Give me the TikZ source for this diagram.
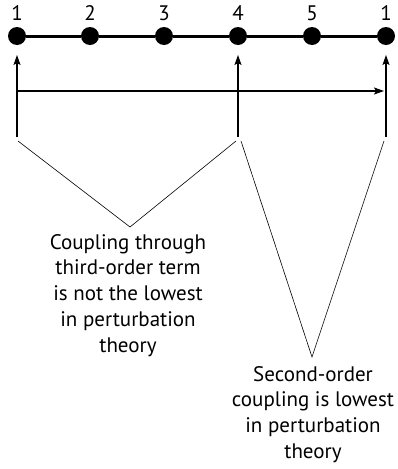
\documentclass[tikz,border=0pt]{standalone}
\usepackage{fontspec}
\setmainfont{PT Sans}
\usetikzlibrary{arrows.meta}
\begin{document}
\begin{tikzpicture}[x=1pt,y=-1pt,
  dot/.style={circle,fill=black,inner sep=0pt,minimum size=18pt},
  num/.style={font=\fontsize{21}{24}\selectfont,inner sep=0pt},
  arr/.style={line width=1.4pt,-{Stealth[length=10pt,width=7pt,inset=2pt]}},
  vline/.style={line width=0.6pt},
  txt/.style={align=center,font=\fontsize{21}{25.8}\selectfont,inner sep=0pt}]
\useasboundingbox (0,0) rectangle (397,469);
% dots
\foreach \n/\x in {a/17,b/90,c/164,d/238,e/312,f/386}{
  \node[dot] (\n) at (\x,36) {};
}
\draw[line width=3pt] (a) -- (b) -- (c) -- (d) -- (e) -- (f);
% numbers
\node[num] (la) at (17,13) {1};
\node[num] (lb) at (90,13) {2};
\node[num] (lc) at (164,13) {3};
\node[num] (ld) at (238,13) {4};
\node[num] (le) at (312,13) {5};
\node[num] (lf) at (386,13) {1};
% arrow coordinates
\coordinate (ba) at (17,137);
\coordinate (bd) at (238,137);
\coordinate (bf) at (386,137);
\coordinate (ta) at (17,55);
\coordinate (td) at (238,55);
\coordinate (tf) at (386,55);
\coordinate (ha) at (17,91);
\coordinate (hf) at (384,91);
\draw[arr] (ba) -- (ta);
\draw[arr] (bd) -- (td);
\draw[arr] (bf) -- (tf);
\draw[arr] (ha) -- (hf);
% V lines
\coordinate (v1a) at (18,141);
\coordinate (v1b) at (236,141);
\coordinate (v2a) at (241,141);
\coordinate (v2b) at (384,141);
\coordinate (p1) at (130,227);
\coordinate (p2) at (312,357);
\draw[vline] (v1a) -- (p1) -- (v1b);
\draw[vline] (v2a) -- (p2) -- (v2b);
% texts
\node[txt,anchor=north] (t1) at (128,234) {Coupling through\\third-order term\\is not the lowest\\in perturbation\\theory};
\node[txt,anchor=north] (t2) at (313,366) {Second-order\\coupling is lowest\\in perturbation\\theory};
\end{tikzpicture}
\end{document}
